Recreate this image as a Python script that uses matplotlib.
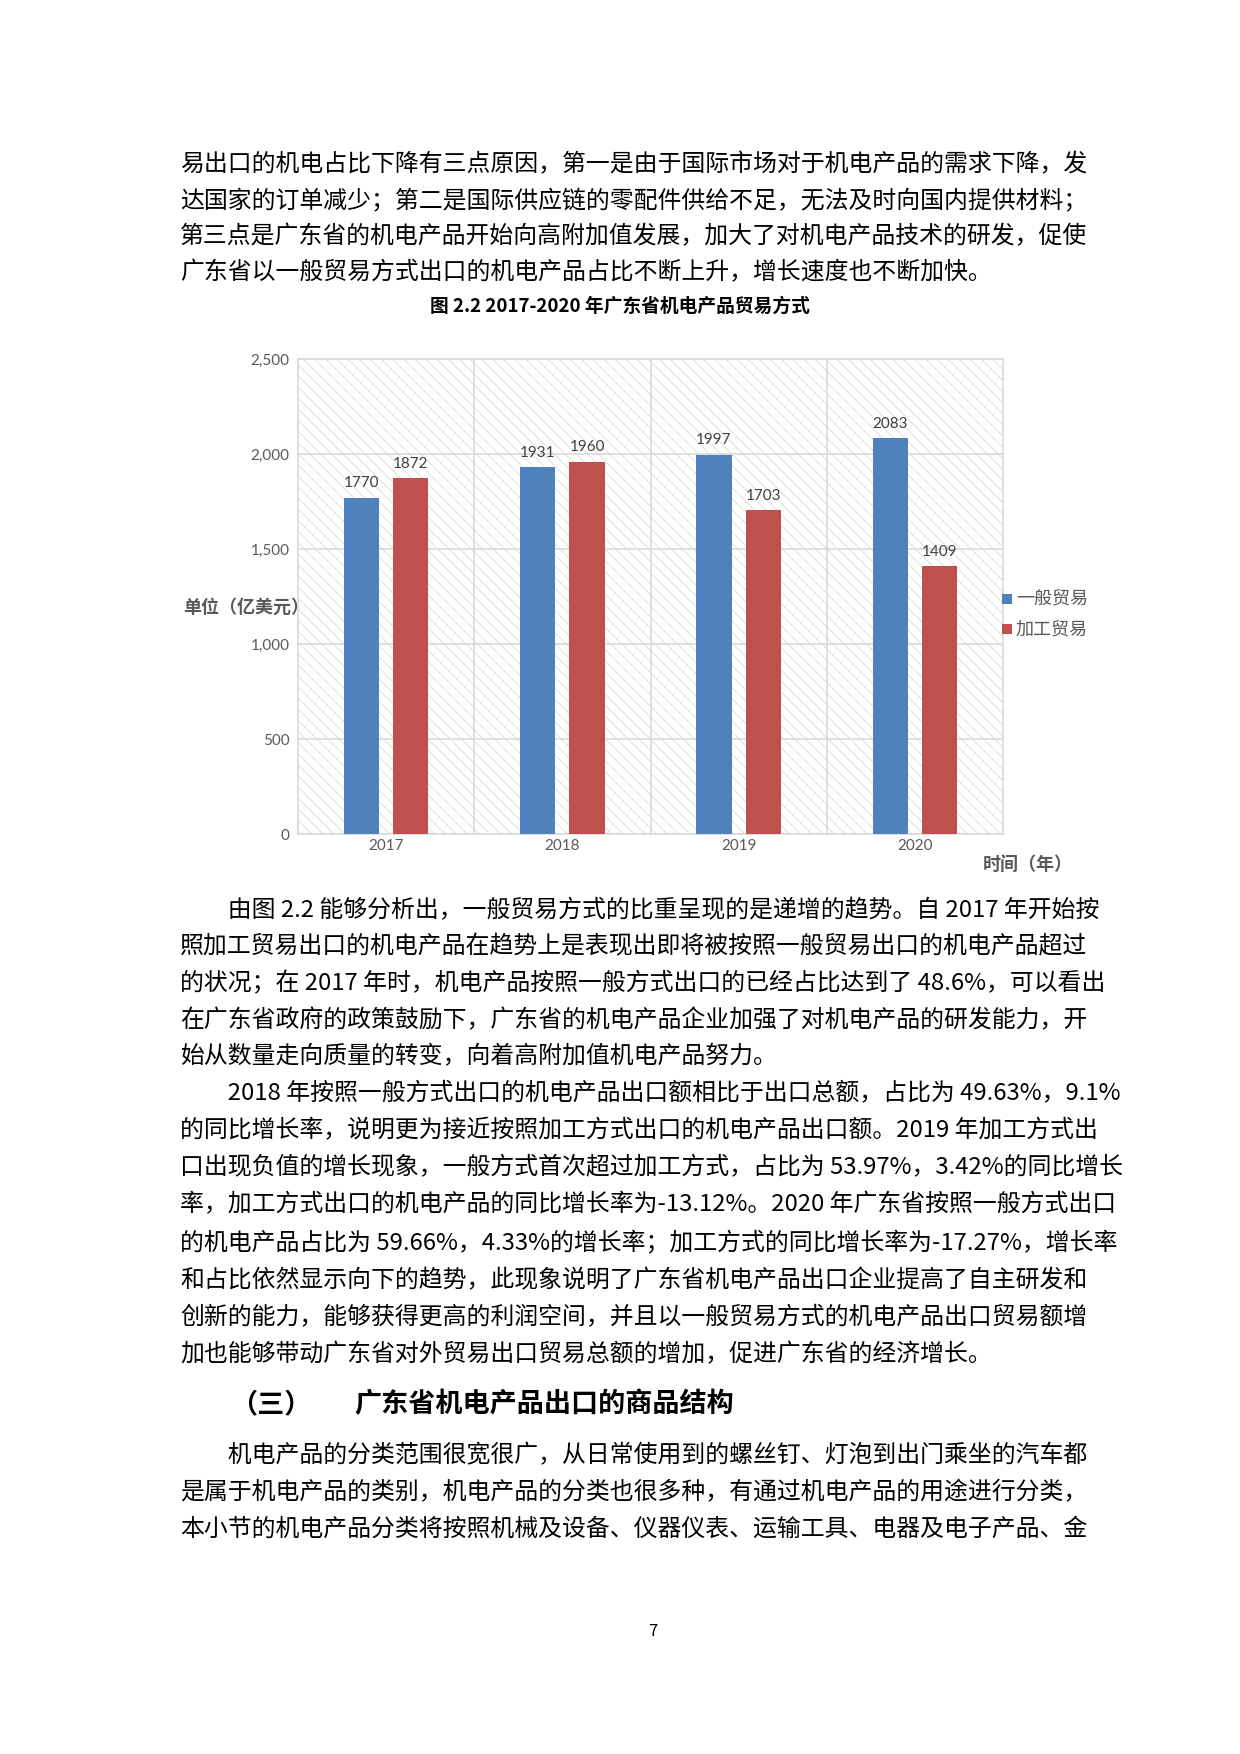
import matplotlib
matplotlib.use("Agg")
import matplotlib.pyplot as plt
import numpy as np
from matplotlib.patches import Rectangle

plt.rcParams['font.family'] = ['Noto Sans CJK SC', 'DejaVu Sans']
plt.rcParams['hatch.color'] = '#dcdcdc'
plt.rcParams['hatch.linewidth'] = 0.8

years = ['2017', '2018', '2019', '2020']
general = [1770, 1931, 1997, 2083]
processing = [1872, 1960, 1703, 1409]
series_names = ['一般贸易', '加工贸易']
yticks = [0, 500, 1000, 1500, 2000, 2500]

W, H = 1240, 1754
fig = plt.figure(figsize=(W/100, H/100), dpi=100)

def T(x, y, s, **kw):
    fig.text(x/W, 1 - y/H, s, va='center', **kw)

para1 = ["易出口的机电占比下降有三点原因，第一是由于国际市场对于机电产品的需求下降，发",
         "达国家的订单减少；第二是国际供应链的零配件供给不足，无法及时向国内提供材料；",
         "第三点是广东省的机电产品开始向高附加值发展，加大了对机电产品技术的研发，促使",
         "广东省以一般贸易方式出口的机电产品占比不断上升，增长速度也不断加快。"]
for i, s in enumerate(para1):
    T(180, 165 + 36*i, s, fontsize=17.2)

T(620, 306, "图 2.2 2017-2020 年广东省机电产品贸易方式", ha='center', fontsize=13.5, fontweight='bold')

para2 = ["　　由图 2.2 能够分析出，一般贸易方式的比重呈现的是递增的趋势。自 2017 年开始按",
         "照加工贸易出口的机电产品在趋势上是表现出即将被按照一般贸易出口的机电产品超过",
         "的状况；在 2017 年时，机电产品按照一般方式出口的已经占比达到了 48.6%，可以看出",
         "在广东省政府的政策鼓励下，广东省的机电产品企业加强了对机电产品的研发能力，开",
         "始从数量走向质量的转变，向着高附加值机电产品努力。",
         "　　2018 年按照一般方式出口的机电产品出口额相比于出口总额，占比为 49.63%，9.1%",
         "的同比增长率，说明更为接近按照加工方式出口的机电产品出口额。2019 年加工方式出",
         "口出现负值的增长现象，一般方式首次超过加工方式，占比为 53.97%，3.42%的同比增长",
         "率，加工方式出口的机电产品的同比增长率为-13.12%。2020 年广东省按照一般方式出口",
         "的机电产品占比为 59.66%，4.33%的增长率；加工方式的同比增长率为-17.27%，增长率",
         "和占比依然显示向下的趋势，此现象说明了广东省机电产品出口企业提高了自主研发和",
         "创新的能力，能够获得更高的利润空间，并且以一般贸易方式的机电产品出口贸易额增",
         "加也能够带动广东省对外贸易出口贸易总额的增加，促进广东省的经济增长。"]
ys2 = [810, 842, 875, 908, 940, 973, 1006, 1039, 1072, 1105, 1139, 1172, 1205]
for s, y in zip(para2, ys2):
    T(180, y*1.124, s, fontsize=17.2)

T(230, 1404, "（三）", fontsize=19.5, fontweight='bold')
T(354, 1404, "广东省机电产品出口的商品结构", fontsize=19.5, fontweight='bold')

para3 = ["　　机电产品的分类范围很宽很广，从日常使用到的螺丝钉、灯泡到出门乘坐的汽车都",
         "是属于机电产品的类别，机电产品的分类也很多种，有通过机电产品的用途进行分类，",
         "本小节的机电产品分类将按照机械及设备、仪器仪表、运输工具、电器及电子产品、金"]
for i, s in enumerate(para3):
    T(180, (1295 + 32.7*i)*1.124, s, fontsize=17.2)

T(653, 1631, "7", ha='center', fontsize=12)

# chart
ax = fig.add_axes([298/W, 1 - 834/H, (1003-298)/W, (834-359)/H])
ax.add_patch(Rectangle((0, 0), 1, 1, transform=ax.transAxes, facecolor='white',
                       hatch='\\\\\\', edgecolor='#e2e2e2', linewidth=0, zorder=0))
x = np.arange(len(years))
bw = 0.2
b1 = ax.bar(x - 0.14, general, bw, color='#4f81bd', zorder=3)
b2 = ax.bar(x + 0.14, processing, bw, color='#c0504d', zorder=3)
for bars in (b1, b2):
    for r in bars:
        ax.text(r.get_x() + r.get_width()/2, r.get_height() + 40, f"{int(r.get_height())}",
                ha='center', va='bottom', fontsize=11, color='#404040', family='Lato')
ax.set_xlim(-0.5, 3.5)
ax.set_ylim(0, 2500)
ax.set_yticks(yticks)
ax.set_yticklabels([f"{v:,}" for v in yticks], family='Lato', fontsize=11, color='#595959')
ax.set_xticks(x)
ax.set_xticklabels(years, family='Lato', fontsize=11, color='#595959')
ax.set_xticks([0.5, 1.5, 2.5], minor=True)
ax.grid(axis='y', color='#d9d9d9', linewidth=1.2, zorder=1)
ax.grid(axis='x', which='minor', color='#d9d9d9', linewidth=1.2, zorder=1)
ax.tick_params(length=0, which='both')
ax.tick_params(axis='y', pad=6)
for sp in ax.spines.values():
    sp.set_color('#d9d9d9'); sp.set_linewidth(1.2)

T(183, 607, "单位（亿美元）", fontsize=13, fontweight='bold', color='#595959')
T(983, 864, "时间（年）", fontsize=13, fontweight='bold', color='#595959')
for i, (n, c) in enumerate(zip(series_names, ['#4f81bd', '#c0504d'])):
    y = 599 + 30*i
    fig.patches.append(Rectangle((1002/W, 1 - (y+5)/H), 10/W, 10/H, transform=fig.transFigure,
                                 facecolor=c, edgecolor='none'))
    T(1016, y, n, fontsize=13, color='#595959')

fig.savefig("out.png", dpi=100)
